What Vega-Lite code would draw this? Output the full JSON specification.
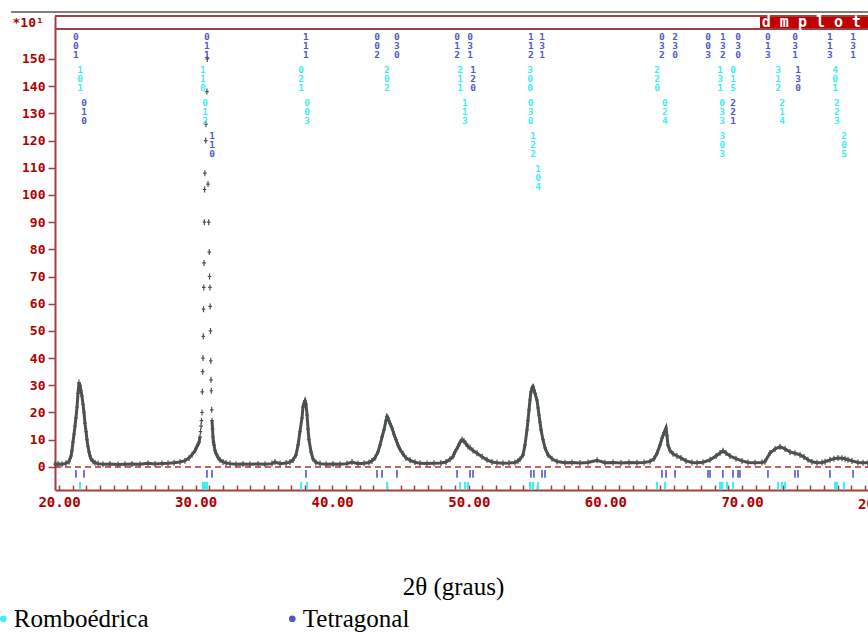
{
  "$schema": "https://vega.github.io/schema/vega-lite/v6.json",
  "width": 813,
  "height": 474,
  "autosize": {"type": "none"},
  "padding": {"left": 55, "top": 16, "right": 0, "bottom": 142},
  "background": "white",
  "config": {"view": {"stroke": null}, "axis": {"grid": false}},
  "datasets": {
    "obs": [
      {"tt": 19.71, "val": 1.0}, {"tt": 19.93, "val": 1.1}, {"tt": 20.22, "val": 1.0}, {"tt": 20.51, "val": 1.3},
      {"tt": 20.73, "val": 2.0}, {"tt": 20.88, "val": 4}, {"tt": 20.95, "val": 6}, {"tt": 21.02, "val": 9},
      {"tt": 21.10, "val": 12}, {"tt": 21.17, "val": 15}, {"tt": 21.24, "val": 18}, {"tt": 21.32, "val": 22},
      {"tt": 21.39, "val": 27}, {"tt": 21.46, "val": 31}, {"tt": 21.54, "val": 30}, {"tt": 21.61, "val": 28},
      {"tt": 21.68, "val": 26}, {"tt": 21.76, "val": 23}, {"tt": 21.83, "val": 20}, {"tt": 21.90, "val": 16},
      {"tt": 21.98, "val": 13}, {"tt": 22.05, "val": 10}, {"tt": 22.12, "val": 7.5}, {"tt": 22.20, "val": 5.5},
      {"tt": 22.27, "val": 4}, {"tt": 22.34, "val": 3}, {"tt": 22.49, "val": 2}, {"tt": 22.64, "val": 1.5},
      {"tt": 22.86, "val": 1.2}, {"tt": 23.22, "val": 1.0}, {"tt": 23.73, "val": 1.1}, {"tt": 24.32, "val": 0.9},
      {"tt": 24.83, "val": 1.0}, {"tt": 25.34, "val": 1.1}, {"tt": 25.93, "val": 1.0}, {"tt": 26.52, "val": 1.3},
      {"tt": 27.03, "val": 1.1}, {"tt": 27.54, "val": 1.2}, {"tt": 27.98, "val": 1.3}, {"tt": 28.42, "val": 1.5},
      {"tt": 28.86, "val": 1.8}, {"tt": 29.22, "val": 2.3}, {"tt": 29.52, "val": 3.3}, {"tt": 29.74, "val": 4.5},
      {"tt": 29.96, "val": 6}, {"tt": 30.10, "val": 7.5}, {"tt": 30.25, "val": 9}, {"tt": 30.32, "val": 11},
      {"tt": 30.36, "val": 13}, {"tt": 30.40, "val": 15}, {"tt": 30.43, "val": 17}, {"tt": 30.47, "val": 20},
      {"tt": 30.49, "val": 27.6}, {"tt": 30.52, "val": 35}, {"tt": 30.54, "val": 40}, {"tt": 30.56, "val": 48},
      {"tt": 30.58, "val": 58}, {"tt": 30.60, "val": 66}, {"tt": 30.62, "val": 75}, {"tt": 30.64, "val": 90},
      {"tt": 30.66, "val": 102}, {"tt": 30.68, "val": 108}, {"tt": 30.74, "val": 120}, {"tt": 30.76, "val": 126},
      {"tt": 30.83, "val": 138}, {"tt": 30.86, "val": 150}, {"tt": 30.91, "val": 104}, {"tt": 30.96, "val": 90},
      {"tt": 31.00, "val": 79}, {"tt": 31.02, "val": 70}, {"tt": 31.05, "val": 66}, {"tt": 31.07, "val": 59},
      {"tt": 31.09, "val": 50}, {"tt": 31.11, "val": 39}, {"tt": 31.13, "val": 32}, {"tt": 31.15, "val": 28},
      {"tt": 31.18, "val": 21}, {"tt": 31.20, "val": 17}, {"tt": 31.24, "val": 14}, {"tt": 31.27, "val": 11},
      {"tt": 31.31, "val": 9}, {"tt": 31.35, "val": 8}, {"tt": 31.42, "val": 6}, {"tt": 31.49, "val": 5},
      {"tt": 31.64, "val": 3.5}, {"tt": 31.79, "val": 2.5}, {"tt": 32.01, "val": 1.8}, {"tt": 32.23, "val": 1.4},
      {"tt": 32.52, "val": 1.2}, {"tt": 32.96, "val": 1.0}, {"tt": 33.47, "val": 1.1}, {"tt": 33.98, "val": 1.0},
      {"tt": 34.57, "val": 1.1}, {"tt": 35.08, "val": 1.0}, {"tt": 35.59, "val": 1.2}, {"tt": 35.81, "val": 1.8},
      {"tt": 36.18, "val": 1.2}, {"tt": 36.62, "val": 1.4}, {"tt": 36.91, "val": 1.8}, {"tt": 37.13, "val": 2.5},
      {"tt": 37.35, "val": 4.4}, {"tt": 37.50, "val": 8}, {"tt": 37.64, "val": 13}, {"tt": 37.79, "val": 18},
      {"tt": 37.86, "val": 22}, {"tt": 37.94, "val": 23.5}, {"tt": 38.01, "val": 24.3}, {"tt": 38.08, "val": 23},
      {"tt": 38.16, "val": 19}, {"tt": 38.23, "val": 14}, {"tt": 38.30, "val": 10}, {"tt": 38.45, "val": 5.5},
      {"tt": 38.59, "val": 3}, {"tt": 38.81, "val": 1.6}, {"tt": 39.11, "val": 1.2}, {"tt": 39.55, "val": 1.0},
      {"tt": 40.06, "val": 1.1}, {"tt": 40.57, "val": 1.0}, {"tt": 41.08, "val": 1.2}, {"tt": 41.45, "val": 1.8},
      {"tt": 41.89, "val": 1.2}, {"tt": 42.33, "val": 1.3}, {"tt": 42.69, "val": 1.6}, {"tt": 42.91, "val": 2.2},
      {"tt": 43.13, "val": 3.3}, {"tt": 43.35, "val": 5.5}, {"tt": 43.50, "val": 8}, {"tt": 43.65, "val": 11},
      {"tt": 43.79, "val": 13.6}, {"tt": 43.94, "val": 17}, {"tt": 44.01, "val": 18.5}, {"tt": 44.08, "val": 18},
      {"tt": 44.23, "val": 16}, {"tt": 44.38, "val": 14.3}, {"tt": 44.52, "val": 12}, {"tt": 44.67, "val": 10},
      {"tt": 44.82, "val": 8}, {"tt": 44.96, "val": 6.5}, {"tt": 45.18, "val": 4.8}, {"tt": 45.40, "val": 3.3},
      {"tt": 45.70, "val": 2.4}, {"tt": 46.06, "val": 1.7}, {"tt": 46.43, "val": 1.3}, {"tt": 46.94, "val": 1.2},
      {"tt": 47.45, "val": 1.3}, {"tt": 47.96, "val": 1.4}, {"tt": 48.33, "val": 1.8}, {"tt": 48.62, "val": 2.8},
      {"tt": 48.84, "val": 3.8}, {"tt": 48.99, "val": 5.5}, {"tt": 49.21, "val": 7.5}, {"tt": 49.36, "val": 9},
      {"tt": 49.50, "val": 10}, {"tt": 49.65, "val": 9.5}, {"tt": 49.79, "val": 8.5}, {"tt": 49.94, "val": 7.5},
      {"tt": 50.09, "val": 7}, {"tt": 50.31, "val": 6}, {"tt": 50.60, "val": 5}, {"tt": 50.97, "val": 3.7},
      {"tt": 51.33, "val": 2.6}, {"tt": 51.70, "val": 1.8}, {"tt": 52.06, "val": 1.5}, {"tt": 52.50, "val": 1.3},
      {"tt": 52.94, "val": 1.4}, {"tt": 53.38, "val": 1.6}, {"tt": 53.60, "val": 2.2}, {"tt": 53.75, "val": 2.8},
      {"tt": 53.97, "val": 4.4}, {"tt": 54.11, "val": 8}, {"tt": 54.26, "val": 13.6}, {"tt": 54.33, "val": 17},
      {"tt": 54.41, "val": 21}, {"tt": 54.48, "val": 24.6}, {"tt": 54.55, "val": 27.6}, {"tt": 54.63, "val": 29},
      {"tt": 54.70, "val": 29.5}, {"tt": 54.77, "val": 28.3}, {"tt": 54.85, "val": 27}, {"tt": 54.99, "val": 24.6},
      {"tt": 55.07, "val": 21.7}, {"tt": 55.14, "val": 19}, {"tt": 55.21, "val": 16.5}, {"tt": 55.29, "val": 13.6},
      {"tt": 55.43, "val": 10}, {"tt": 55.58, "val": 7}, {"tt": 55.80, "val": 4.4}, {"tt": 56.09, "val": 3},
      {"tt": 56.46, "val": 2}, {"tt": 57.04, "val": 1.5}, {"tt": 57.55, "val": 1.6}, {"tt": 58.14, "val": 1.4},
      {"tt": 58.73, "val": 1.6}, {"tt": 59.39, "val": 2.4}, {"tt": 59.97, "val": 1.5}, {"tt": 60.56, "val": 1.6},
      {"tt": 61.14, "val": 1.4}, {"tt": 61.73, "val": 1.6}, {"tt": 62.31, "val": 1.5}, {"tt": 62.83, "val": 1.6},
      {"tt": 63.27, "val": 2.0}, {"tt": 63.56, "val": 3}, {"tt": 63.78, "val": 5}, {"tt": 64.00, "val": 8},
      {"tt": 64.14, "val": 10.5}, {"tt": 64.29, "val": 12.5}, {"tt": 64.44, "val": 14.3}, {"tt": 64.51, "val": 11.4},
      {"tt": 64.58, "val": 8}, {"tt": 64.73, "val": 6}, {"tt": 64.95, "val": 4.8}, {"tt": 65.24, "val": 4},
      {"tt": 65.53, "val": 3.3}, {"tt": 65.90, "val": 2.2}, {"tt": 66.34, "val": 1.6}, {"tt": 66.71, "val": 1.5},
      {"tt": 67.15, "val": 1.7}, {"tt": 67.66, "val": 2.6}, {"tt": 68.10, "val": 4}, {"tt": 68.39, "val": 5.1},
      {"tt": 68.61, "val": 5.9}, {"tt": 68.83, "val": 5.1}, {"tt": 69.12, "val": 4}, {"tt": 69.56, "val": 3},
      {"tt": 70.00, "val": 2.2}, {"tt": 70.44, "val": 1.6}, {"tt": 70.95, "val": 1.5}, {"tt": 71.46, "val": 1.6},
      {"tt": 71.68, "val": 1.9}, {"tt": 72.05, "val": 5.1}, {"tt": 72.42, "val": 6.6}, {"tt": 72.78, "val": 7.4},
      {"tt": 73.15, "val": 6.6}, {"tt": 73.51, "val": 5.5}, {"tt": 73.88, "val": 5}, {"tt": 74.25, "val": 4.4},
      {"tt": 74.54, "val": 3.6}, {"tt": 74.83, "val": 2.6}, {"tt": 75.12, "val": 1.9}, {"tt": 75.49, "val": 1.5},
      {"tt": 75.86, "val": 1.6}, {"tt": 76.08, "val": 1.9}, {"tt": 76.44, "val": 2.6}, {"tt": 76.73, "val": 3},
      {"tt": 77.03, "val": 3.3}, {"tt": 77.32, "val": 3.2}, {"tt": 77.54, "val": 3}, {"tt": 77.76, "val": 2.6},
      {"tt": 78.05, "val": 2.2}, {"tt": 78.49, "val": 1.6}, {"tt": 78.86, "val": 1.5}, {"tt": 79.22, "val": 1.5}
    ],
    "refl": [
      {"phase": "Tetragonal", "tt": 21.24, "hkl": "0\n0\n1", "tier": 1},
      {"phase": "Tetragonal", "tt": 21.83, "hkl": "0\n1\n0", "tier": 3},
      {"phase": "Tetragonal", "tt": 30.83, "hkl": "0\n1\n1", "tier": 1},
      {"phase": "Tetragonal", "tt": 31.20, "hkl": "1\n1\n0", "tier": 4},
      {"phase": "Tetragonal", "tt": 38.08, "hkl": "1\n1\n1", "tier": 1},
      {"phase": "Tetragonal", "tt": 43.28, "hkl": "0\n0\n2", "tier": 1},
      {"phase": "Tetragonal", "tt": 43.65, "hkl": "", "tier": null},
      {"phase": "Tetragonal", "tt": 44.74, "hkl": "0\n3\n0", "tier": 1},
      {"phase": "Tetragonal", "tt": 49.14, "hkl": "0\n1\n2", "tier": 1},
      {"phase": "Tetragonal", "tt": 50.09, "hkl": "0\n3\n1", "tier": 1},
      {"phase": "Tetragonal", "tt": 50.31, "hkl": "1\n2\n0", "tier": 2},
      {"phase": "Tetragonal", "tt": 54.55, "hkl": "1\n1\n2", "tier": 1},
      {"phase": "Tetragonal", "tt": 54.77, "hkl": "", "tier": null},
      {"phase": "Tetragonal", "tt": 55.36, "hkl": "1\n3\n1", "tier": 1},
      {"phase": "Tetragonal", "tt": 55.58, "hkl": "", "tier": null},
      {"phase": "Tetragonal", "tt": 64.14, "hkl": "0\n3\n2", "tier": 1},
      {"phase": "Tetragonal", "tt": 64.44, "hkl": "", "tier": null},
      {"phase": "Tetragonal", "tt": 65.10, "hkl": "2\n3\n0", "tier": 1},
      {"phase": "Tetragonal", "tt": 67.51, "hkl": "0\n0\n3", "tier": 1},
      {"phase": "Tetragonal", "tt": 67.66, "hkl": "", "tier": null},
      {"phase": "Tetragonal", "tt": 68.60, "hkl": "1\n3\n2", "tier": 1},
      {"phase": "Tetragonal", "tt": 69.34, "hkl": "2\n2\n1", "tier": 3},
      {"phase": "Tetragonal", "tt": 69.71, "hkl": "0\n3\n0", "tier": 1},
      {"phase": "Tetragonal", "tt": 69.85, "hkl": "", "tier": null},
      {"phase": "Tetragonal", "tt": 71.90, "hkl": "0\n1\n3", "tier": 1},
      {"phase": "Tetragonal", "tt": 73.88, "hkl": "0\n3\n1", "tier": 1},
      {"phase": "Tetragonal", "tt": 74.10, "hkl": "1\n3\n0", "tier": 2},
      {"phase": "Tetragonal", "tt": 76.44, "hkl": "1\n1\n3", "tier": 1},
      {"phase": "Tetragonal", "tt": 78.13, "hkl": "1\n3\n1", "tier": 1},
      {"phase": "Romboédrica", "tt": 21.54, "hkl": "1\n0\n1", "tier": 2},
      {"phase": "Romboédrica", "tt": 30.54, "hkl": "1\n1\n0", "tier": 2},
      {"phase": "Romboédrica", "tt": 30.69, "hkl": "0\n1\n2", "tier": 3},
      {"phase": "Romboédrica", "tt": 30.83, "hkl": "", "tier": null},
      {"phase": "Romboédrica", "tt": 37.72, "hkl": "0\n2\n1", "tier": 2},
      {"phase": "Romboédrica", "tt": 38.16, "hkl": "0\n0\n3", "tier": 3},
      {"phase": "Romboédrica", "tt": 44.01, "hkl": "2\n0\n2", "tier": 2},
      {"phase": "Romboédrica", "tt": 49.36, "hkl": "2\n1\n1", "tier": 2},
      {"phase": "Romboédrica", "tt": 49.72, "hkl": "1\n1\n3", "tier": 3},
      {"phase": "Romboédrica", "tt": 49.94, "hkl": "", "tier": null},
      {"phase": "Romboédrica", "tt": 54.48, "hkl": "3\n0\n0", "tier": 2},
      {"phase": "Romboédrica", "tt": 54.52, "hkl": "0\n3\n0", "tier": 3},
      {"phase": "Romboédrica", "tt": 54.70, "hkl": "1\n2\n2", "tier": 4},
      {"phase": "Romboédrica", "tt": 55.07, "hkl": "1\n0\n4", "tier": 5},
      {"phase": "Romboédrica", "tt": 63.78, "hkl": "2\n2\n0", "tier": 2},
      {"phase": "Romboédrica", "tt": 64.36, "hkl": "0\n2\n4", "tier": 3},
      {"phase": "Romboédrica", "tt": 68.39, "hkl": "1\n3\n1", "tier": 2},
      {"phase": "Romboédrica", "tt": 68.54, "hkl": "0\n3\n3", "tier": 3},
      {"phase": "Romboédrica", "tt": 68.56, "hkl": "3\n0\n3", "tier": 4},
      {"phase": "Romboédrica", "tt": 68.90, "hkl": "", "tier": null},
      {"phase": "Romboédrica", "tt": 69.34, "hkl": "0\n1\n5", "tier": 2},
      {"phase": "Romboédrica", "tt": 72.64, "hkl": "3\n1\n2", "tier": 2},
      {"phase": "Romboédrica", "tt": 72.93, "hkl": "2\n1\n4", "tier": 3},
      {"phase": "Romboédrica", "tt": 73.15, "hkl": "", "tier": null},
      {"phase": "Romboédrica", "tt": 76.81, "hkl": "4\n0\n1", "tier": 2},
      {"phase": "Romboédrica", "tt": 76.95, "hkl": "2\n2\n3", "tier": 3},
      {"phase": "Romboédrica", "tt": 77.47, "hkl": "2\n0\n5", "tier": 4}
    ],
    "one": [{}]
  },
  "resolve": {"scale": {"y": "independent"}, "axis": {"x": "independent", "y": "independent"}},
  "layer": [
    {
      "resolve": {"axis": {"x": "independent", "y": "independent"}},
      "layer": [
        {
          "data": {"name": "obs"},
          "mark": {"type": "point", "shape": "M0,-1V1M-0.6,0H0.6", "filled": false, "size": 36, "strokeWidth": 1.2, "color": "#4b524e", "opacity": 1},
          "encoding": {
            "x": {
              "field": "tt", "type": "quantitative",
              "scale": {"domain": [19.707, 79.224], "nice": false, "zero": false},
              "axis": {
                "values": [20,21,22,23,24,25,26,27,28,29,30,31,32,33,34,35,36,37,38,39,40,41,42,43,44,45,46,47,48,49,50,51,52,53,54,55,56,57,58,59,60,61,62,63,64,65,66,67,68,69,70,71,72,73,74,75,76,77,78,79],
                "labelExpr": "datum.value % 10 === 0 ? format(datum.value, '.2f') : ''",
                "tickSize": -5, "labelPadding": 10, "domainColor": "#a04040", "domainWidth": 2,
                "tickColor": "#a04040", "tickWidth": 1.5,
                "labelFont": "DejaVu Sans Mono", "labelFontWeight": "bold", "labelFontSize": 14, "labelColor": "#b00000",
                "labelBaseline": "top", "labelOverlap": false, "labelFlush": false, "labelBound": false,
                "titleFont": "Liberation Serif", "titleFontSize": 25, "titleFontWeight": "normal", "titleColor": "black",
                "titleX": 398, "titleY": 104, "titleBaseline": "alphabetic", "titleAlign": "center"
              },
              "title": "2θ (graus)"
            },
            "y": {
              "field": "val", "type": "quantitative",
              "scale": {"domain": [-8.5, 165.8], "nice": false, "zero": false},
              "axis": {
                "values": [0,10,20,30,40,50,60,70,80,90,100,110,120,130,140,150],
                "tickSize": 7, "labelPadding": 3, "domainColor": "#a04040", "domainWidth": 2,
                "tickColor": "#a04040", "tickWidth": 1.5, "labelOverlap": false, "labelBound": false,
                "labelFont": "DejaVu Sans Mono", "labelFontWeight": "bold", "labelFontSize": 13, "labelColor": "#b00000",
                "titleAngle": 0, "titleX": -43, "titleY": 6, "titleAlign": "left", "titleBaseline": "middle",
                "titleFont": "DejaVu Sans Mono", "titleFontSize": 13, "titleFontWeight": "bold", "titleColor": "#b00000"
              },
              "title": "*10¹"
            }
          }
        },
        {
          "data": {"name": "obs"},
          "transform": [{"filter": "datum.tt <= 30.33"}],
          "mark": {"type": "line", "color": "#4b524e", "strokeWidth": 3},
          "encoding": {
            "x": {"field": "tt", "type": "quantitative", "axis": null},
            "y": {"field": "val", "type": "quantitative", "axis": null}
          }
        },
        {
          "data": {"name": "obs"},
          "transform": [{"filter": "datum.tt >= 31.19"}],
          "mark": {"type": "line", "color": "#4b524e", "strokeWidth": 3},
          "encoding": {
            "x": {"field": "tt", "type": "quantitative", "axis": null},
            "y": {"field": "val", "type": "quantitative", "axis": null}
          }
        },
        {
          "data": {"name": "one"},
          "mark": {"type": "rule", "color": "#b03030", "strokeWidth": 1.5, "strokeDash": [6, 4]},
          "encoding": {"x": {"datum": 19.707, "axis": null}, "x2": {"datum": 79.224}, "y": {"datum": 0, "axis": null}}
        },
        {
          "data": {"name": "refl"},
          "transform": [{"filter": "datum.phase === 'Tetragonal'"}],
          "mark": {"type": "rule", "color": "#5058d0", "strokeWidth": 1.6},
          "encoding": {
            "x": {"field": "tt", "type": "quantitative", "axis": null},
            "y": {"datum": -1.1, "axis": null},
            "y2": {"datum": -4.0}
          }
        },
        {
          "data": {"name": "refl"},
          "transform": [{"filter": "datum.phase === 'Romboédrica'"}],
          "mark": {"type": "rule", "color": "#40eef0", "strokeWidth": 2},
          "encoding": {
            "x": {"field": "tt", "type": "quantitative", "axis": null},
            "y": {"datum": -5.5, "axis": null},
            "y2": {"datum": -8.3}
          }
        },
        {
          "data": {"name": "one"},
          "mark": {"type": "rule", "color": "#a04040", "strokeWidth": 2},
          "encoding": {"x": {"datum": 19.707, "axis": null}, "x2": {"datum": 79.224}, "y": {"datum": 165.8, "axis": null}}
        },
        {
          "data": {"name": "one"},
          "mark": {"type": "rule", "color": "#a04040", "strokeWidth": 2},
          "encoding": {"x": {"datum": 19.707, "axis": null}, "x2": {"datum": 79.224}, "y": {"datum": 161.0, "axis": null}}
        },
        {
          "data": {"name": "one"},
          "mark": {"type": "rule", "color": "#555555", "strokeWidth": 1.5},
          "encoding": {"x": {"datum": 16.49, "axis": null}, "x2": {"datum": 79.224}, "y": {"datum": 167.3, "axis": null}}
        },
        {
          "data": {"name": "one"},
          "mark": {"type": "rect", "color": "#c00000"},
          "encoding": {"x": {"datum": 71.32, "axis": null}, "x2": {"datum": 79.224}, "y": {"datum": 161.4, "axis": null}, "y2": {"datum": 165.4}}
        },
        {
          "data": {"name": "one"},
          "mark": {"type": "text", "text": "d m p l o t", "align": "left", "baseline": "alphabetic", "font": "DejaVu Sans Mono", "fontWeight": "bold", "fontSize": 15, "color": "white"},
          "encoding": {"x": {"datum": 71.45, "axis": null}, "y": {"datum": 161.7, "axis": null}}
        },
        {
          "data": {"name": "one"},
          "mark": {"type": "text", "text": "2θ", "align": "left", "baseline": "top", "font": "DejaVu Sans Mono", "fontWeight": "bold", "fontSize": 14, "color": "#b00000"},
          "encoding": {"x": {"datum": 78.49, "axis": null}, "y": {"datum": -11.3, "axis": null}}
        }
      ]
    },
    {
      "data": {"name": "refl"},
      "transform": [{"filter": "datum.hkl != ''"}],
      "mark": {"type": "text", "baseline": "top", "align": "center", "lineBreak": "\n", "lineHeight": 9, "font": "DejaVu Sans Mono", "fontWeight": "bold", "fontSize": 9.5},
      "encoding": {
        "x": {"field": "tt", "type": "quantitative", "axis": null},
        "y": {"field": "tier", "type": "quantitative", "scale": {"domain": [0.515, 14.88], "reverse": true, "nice": false, "zero": false}, "axis": null},
        "text": {"field": "hkl"},
        "color": {
          "field": "phase", "type": "nominal",
          "scale": {"domain": ["Romboédrica", "Tetragonal"], "range": ["#40eef0", "#5058d0"]},
          "legend": {
            "title": null, "orient": "none", "legendX": -64.2, "legendY": 590, "direction": "horizontal", "columns": 2,
            "symbolType": "circle", "symbolSize": 45, "symbolStrokeWidth": 0,
            "labelFont": "Liberation Serif", "labelFontSize": 25, "labelColor": "black", "labelOffset": -2, "labelLimit": 300,
            "columnPadding": 131, "padding": 0,
            "encode": {"symbols": {"update": {"fill": {"signal": "datum.value === 'Tetragonal' ? '#6a12d8' : '#22e4f0'"}, "opacity": {"value": 1}}}}
          }
        }
      }
    }
  ]
}
